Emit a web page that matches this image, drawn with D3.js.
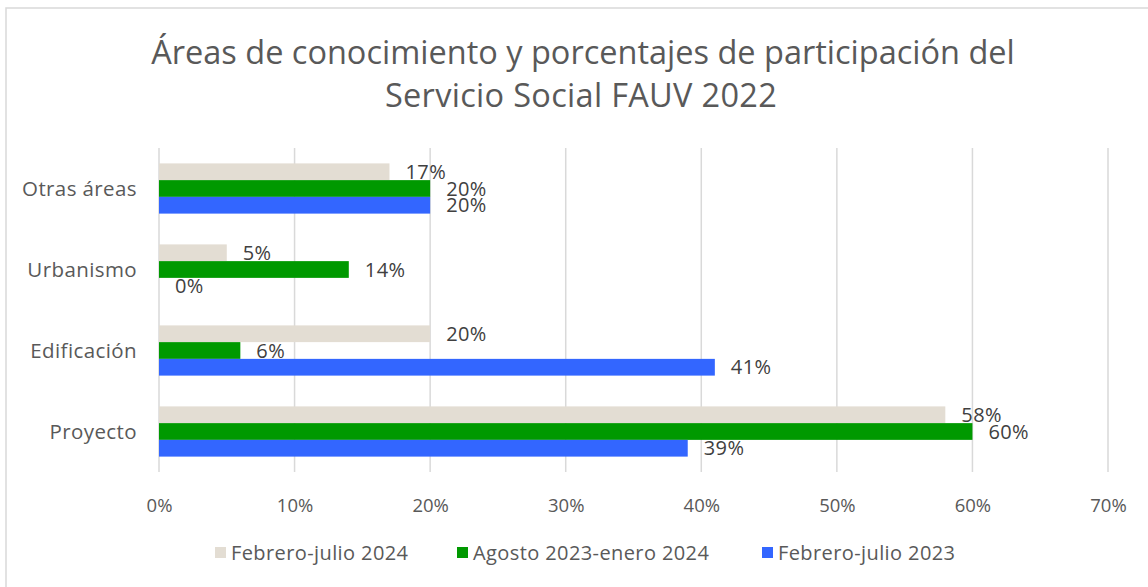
<!DOCTYPE html>
<html><head><meta charset="utf-8">
<script src="https://cdn.jsdelivr.net/npm/d3@7"></script>
<style>
html,body{margin:0;padding:0;background:#fff;}
svg{display:block;font-family:"Open Sans","Lato",sans-serif;}
</style></head>
<body><svg id="c" width="1148" height="587"></svg>
<script>
const categories = ["Otras áreas","Urbanismo","Edificación","Proyecto"];
const seriesNames = ["Febrero-julio 2024","Agosto 2023-enero 2024","Febrero-julio 2023"];
const feb2024 = [0.17, 0.05, 0.20, 0.58];
const ago2023 = [0.20, 0.14, 0.06, 0.60];
const feb2023 = [0.20, 0.00, 0.41, 0.39];
const tickValues = [0,0.1,0.2,0.3,0.4,0.5,0.6,0.7];
const colors = ["#E3DDD3","#009900","#3366FF"];
const seriesVals = [feb2024, ago2023, feb2023];

const svg = d3.select("#c");
svg.append("rect").attr("x",6).attr("y",8).attr("width",1160).attr("height",600)
  .attr("fill","#fff").attr("stroke","#d9d9d9").attr("stroke-width",1.5);

svg.append("text").attr("x",583).attr("y",64).attr("text-anchor","middle")
  .attr("font-size",32.5).attr("fill","#595959")
  .text("Áreas de conocimiento y porcentajes de participación del");
svg.append("text").attr("x",581).attr("y",107).attr("text-anchor","middle")
  .attr("font-size",32.5).attr("fill","#595959").attr("letter-spacing",0.3)
  .text("Servicio Social FAUV 2022");

const x = d3.scaleLinear().domain([0,0.7]).range([159,1108]);
const y = d3.scaleBand().domain(categories).range([148,472]).paddingInner(0.38).paddingOuter(0.19);
const ys = d3.scaleBand().domain(d3.range(3)).range([0,y.bandwidth()]);

const g = svg.append("g");
g.selectAll("line.grid").data(tickValues).join("line")
  .attr("x1",d=>x(d)).attr("x2",d=>x(d)).attr("y1",148).attr("y2",472)
  .attr("stroke","#d9d9d9").attr("stroke-width",1.5);

const xAxis = d3.axisBottom(x).tickValues(tickValues).tickFormat(d3.format(".0%")).tickSize(0).tickPadding(0);
const ax = svg.append("g").attr("transform","translate(0,512)").call(xAxis);
ax.select(".domain").remove();
ax.selectAll("text").attr("font-size",18.5).attr("fill","#595959").attr("font-family","Open Sans").attr("dy","0");

const yAxis = d3.axisLeft(y).tickSize(0).tickPadding(0);
const ay = svg.append("g").attr("transform","translate(137,0)").call(yAxis);
ay.select(".domain").remove();
ay.selectAll("text").attr("font-size",20.5).attr("letter-spacing",0.4).attr("fill","#595959").attr("font-family","Open Sans").attr("dy","0.35em");

seriesVals.forEach((vals,si)=>{
  const sg = g.append("g");
  sg.selectAll("rect").data(vals).join("rect")
    .attr("x",x(0)).attr("y",(d,i)=>y(categories[i])+ys(si))
    .attr("width",d=>x(d)-x(0)).attr("height",ys.bandwidth())
    .attr("fill",colors[si]);
  sg.selectAll("text").data(vals).join("text")
    .attr("x",d=>x(d)+16).attr("y",(d,i)=>y(categories[i])+ys(si)+ys.bandwidth()/2)
    .attr("dy","0.35em").attr("font-size",20).attr("letter-spacing",0.4).attr("fill","#404040")
    .text(d=>d3.format(".0%")(d));
});

// legend
const legX = [215, 457, 762];
const leg = svg.append("g");
seriesNames.forEach((n,i)=>{
  leg.append("rect").attr("x",legX[i]).attr("y",547).attr("width",11).attr("height",11).attr("fill",colors[i]);
  leg.append("text").attr("x",legX[i]+16).attr("y",553).attr("dy","0.35em")
    .attr("font-size",20).attr("letter-spacing",0.4).attr("fill","#595959").text(n);
});
</script></body></html>
